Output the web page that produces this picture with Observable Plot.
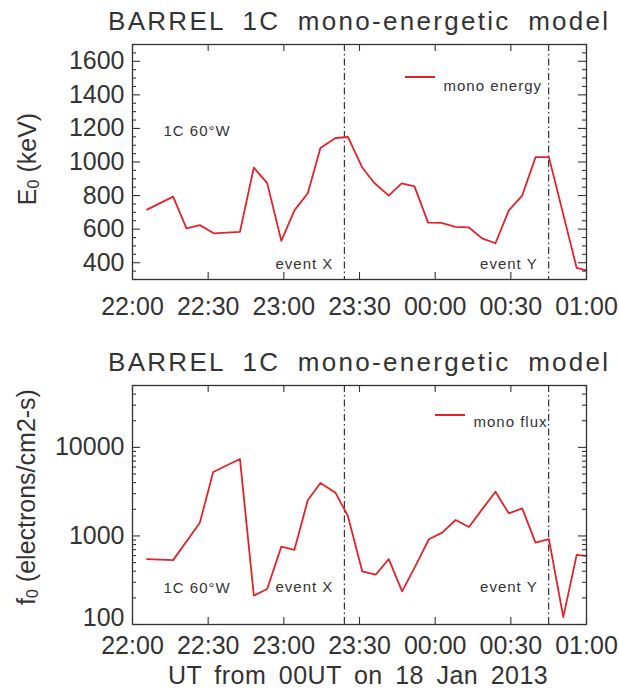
<!DOCTYPE html>
<html>
<head>
<meta charset="utf-8">
<script src="https://cdn.jsdelivr.net/npm/d3@7"></script>
<script src="https://cdn.jsdelivr.net/npm/@observablehq/plot@0.6"></script>
<style>
  body { margin: 0; background: #fff; }
  #wrap { position: relative; width: 619px; height: 691px; overflow: hidden;
          font-family: "Liberation Sans", Arial, sans-serif; color: #333; }
  #wrap svg { position: absolute; left: 0; }
  .abs { position: absolute; white-space: nowrap; line-height: 25px; font-size: 25px; }
  .title { font-size: 26px; line-height: 26px; letter-spacing: 2.3px; word-spacing: 8px; }
  .ylab { transform: translate(-50%, -50%) rotate(-90deg); }
  .ylab sub { font-size: 16px; vertical-align: -3px; line-height: 0; }
  .legline { position: absolute; width: 30px; height: 2px; background: #e3232b; }
</style>
</head>
<body>
<div id="wrap"></div>
<script>
// ---- data (minutes after 22:00 UT on 17 Jan 2013) ----
const xTickVals = [0, 30, 60, 90, 120, 150, 180];
const xTickLabels = ["22:00", "22:30", "23:00", "23:30", "00:00", "00:30", "01:00"];
const eventTimes = [84, 165];
const eventLabels = ["event X", "event Y"];

const eTimes = [5.8, 16.1, 21.4, 26.7, 32.2, 42.6, 48.1, 53.4, 59.0, 64.2, 69.5, 74.5, 80.5, 85.4,
                91.1, 95.7, 101.6, 106.7, 111.8, 117.2, 122.5, 128.1, 133.4, 138.6, 143.9, 149.2,
                154.5, 159.8, 165.1, 176.1, 180];
const eVals = [716, 794, 604, 624, 575, 584, 967, 874, 530, 712, 814, 1084, 1143, 1149,
               967, 878, 800, 873, 855, 639, 637, 614, 610, 545, 516, 712,
               800, 1029, 1029, 369, 355];

const fTimes = [5.8, 16.1, 26.7, 32.0, 42.6, 48.1, 53.4, 59.0, 64.2, 69.5, 74.5, 80.5, 85.4,
                91.1, 96.4, 101.6, 106.9, 112.2, 117.5, 122.8, 128.1, 133.4, 138.6, 143.9,
                149.2, 154.5, 159.8, 165.1, 170.8, 176.1, 180];
const fVals = [547, 533, 1412, 5270, 7390, 212, 252, 758, 697, 2535, 3970, 3070, 1680,
               397, 365, 547, 237, 460, 918, 1090, 1513, 1262, 1995, 3150,
               1800, 2047, 841, 918, 121, 612, 596];

const eTickVals = [400, 600, 800, 1000, 1200, 1400, 1600];
const eTickLabels = ["400", "600", "800", "1000", "1200", "1400", "1600"];
const fTickVals = [100, 1000, 10000];
const fTickLabels = ["100", "1000", "10000"];

const titleText = "BARREL 1C mono-energetic model";
const probeText = "1C 60°W";
const legendE = "mono energy";
const legendF = "mono flux";
const xTitle = "UT from 00UT on 18 Jan 2013";

// ---- styling ----
const red = "#e3232b", ink = "#333";
const font = "'Liberation Sans', Arial, sans-serif";
const W = 619, ML = 132, MR = 33, FW = W - ML - MR;

const eMinor = d3.range(300, 1701, 50).filter(v => v % 200 !== 0);
const fMinor = [];
for (const d of [100, 1000, 10000]) for (let k = 2; k <= 9; k++) if (k * d <= 50000) fMinor.push(k * d);

function tickMarks(xv, ymaj, ymin, FH) {
  const s = {stroke: ink, strokeWidth: 1.1};
  return [
    Plot.ruleX(xv, {...s, insetTop: FH - 7}),
    Plot.ruleX(xv, {...s, insetBottom: FH - 7}),
    Plot.ruleY(ymaj, {...s, insetRight: FW - 8}),
    Plot.ruleY(ymaj, {...s, insetLeft: FW - 8}),
    Plot.ruleY(ymin, {...s, insetRight: FW - 4}),
    Plot.ruleY(ymin, {...s, insetLeft: FW - 4})
  ];
}

function makePanel({times, vals, yOpts, yTicks, yLabels, yMinor, height, mt, mb, xPad, lowDy,
                    anchorTop, probeDy, evDy, legText, legDx, legDy}) {
  const FH = height - mt - mb;
  const data = times.map((t, i) => ({t, v: vals[i]}));
  const fmtY = d => yLabels[yTicks.indexOf(d)];
  const svg = Plot.plot({
    width: W, height, marginLeft: ML, marginRight: MR, marginTop: mt, marginBottom: mb,
    style: {background: "transparent", fontFamily: font, color: ink, overflow: "visible"},
    x: {domain: [0, 180]},
    y: yOpts,
    marks: [
      Plot.ruleX(eventTimes, {stroke: "#222", strokeWidth: 1.1, strokeDasharray: "7,3,1.5,3"}),
      Plot.line(data, {x: "t", y: "v", stroke: red, strokeWidth: 1.8}),
      ...tickMarks(xTickVals, yTicks, yMinor, FH),
      Plot.frame({stroke: ink, strokeWidth: 1.3}),
      Plot.axisX(xTickVals, {tickSize: 0, tickPadding: xPad, fontSize: 25, label: null,
        tickFormat: d => xTickLabels[xTickVals.indexOf(d)]}),
      Plot.axisY(yTicks.slice(1), {tickSize: 0, tickPadding: 8, fontSize: 25, label: null, tickFormat: fmtY}),
      Plot.axisY(yTicks.slice(0, 1), {tickSize: 0, tickPadding: 8, fontSize: 25, label: null, tickFormat: fmtY, dy: lowDy}),
      Plot.text([probeText], {frameAnchor: anchorTop ? "top-left" : "bottom-left", dx: 31, dy: probeDy,
        textAnchor: "start", fontSize: 15, fill: ink}),
      Plot.text(eventTimes, {x: d => d, text: (d, i) => eventLabels[i], frameAnchor: "bottom",
        dx: -11, dy: evDy, textAnchor: "end", fontSize: 15, fill: ink}),
      Plot.text([legText], {frameAnchor: "top-left", dx: legDx, dy: legDy, textAnchor: "start",
        fontSize: 15, fill: ink})
    ]
  });
  d3.select(svg).selectAll('g[aria-label="text"] text').style("letter-spacing", "1px");
  return svg;
}

const wrap = document.getElementById("wrap");

const p1 = makePanel({times: eTimes, vals: eVals, yOpts: {domain: [300, 1700]},
  yTicks: eTickVals, yLabels: eTickLabels, yMinor: eMinor,
  height: 330, mt: 44, mb: 51, xPad: 18, lowDy: 0, anchorTop: true, probeDy: 81, evDy: -11,
  legText: legendE, legDx: 311, legDy: 36});
p1.style.top = "0px";
wrap.appendChild(p1);

const p2 = makePanel({times: fTimes, vals: fVals, yOpts: {type: "log", domain: [100, 50000]},
  yTicks: fTickVals, yLabels: fTickLabels, yMinor: fMinor,
  height: 351, mt: 45, mb: 67, xPad: 12, lowDy: -7, anchorTop: false, probeDy: -32, evDy: -33,
  legText: legendF, legDx: 341, legDy: 31});
p2.style.top = "340px";
wrap.appendChild(p2);

function addDiv(cls, html, css) {
  const d = document.createElement("div");
  d.className = cls;
  d.innerHTML = html;
  Object.assign(d.style, css);
  wrap.appendChild(d);
  return d;
}
addDiv("abs title", titleText, {left: "108px", top: "8px"});
addDiv("abs title", titleText, {left: "108px", top: "349px"});
addDiv("abs", xTitle, {left: "168px", top: "663px", wordSpacing: "5px", letterSpacing: "0.5px"});
addDiv("abs ylab", "E<sub>0</sub> (keV)", {left: "27px", top: "159px"});
addDiv("abs ylab", "f<sub>0</sub> (electrons/cm2-s)", {left: "26px", top: "497px"});
addDiv("legline", "", {left: "405px", top: "76px"});
addDiv("legline", "", {left: "435px", top: "414px"});
</script>
</body>
</html>
